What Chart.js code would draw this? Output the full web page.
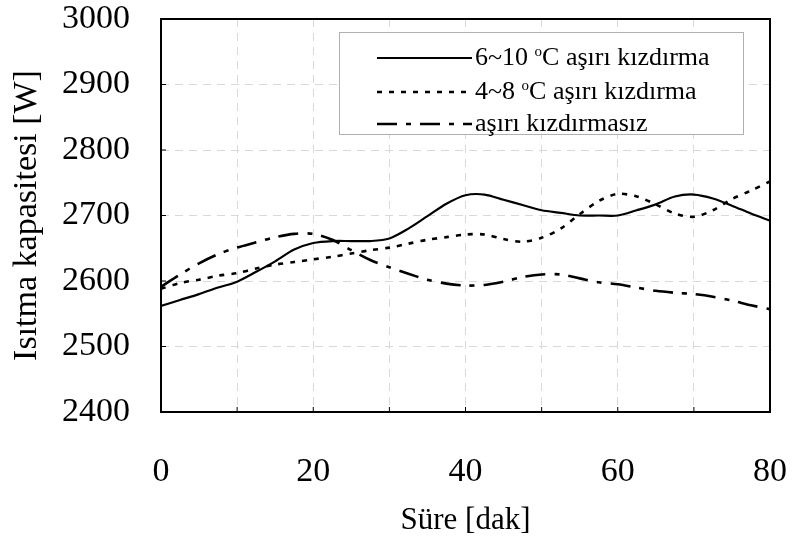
<!DOCTYPE html>
<html>
<head>
<meta charset="utf-8">
<script src="https://cdn.jsdelivr.net/npm/chart.js@4"></script>
<style>
  html, body { margin: 0; padding: 0; background: #fff; }
  #wrap { width: 792px; height: 545px; }
</style>
</head>
<body>
<div id="wrap"><canvas id="chart" width="792" height="545"></canvas></div>
<script>
// süre [dak]
const sure = [0, 2.5, 5, 7.5, 10, 12.5, 15, 17.5, 20, 22.5, 25, 27.5, 30, 32.5, 35, 37.5, 40,
  42.5, 45, 47.5, 50, 52.5, 55, 57.5, 60, 62.5, 65, 67.5, 70, 72.5, 75, 77.5, 80];

// ısıtma kapasitesi [W]
const kizdirma6_10 = [2562, 2571, 2580, 2590, 2599, 2614, 2630, 2648, 2658, 2661, 2661, 2661, 2665,
  2680, 2699, 2718, 2731, 2732, 2724, 2716, 2708, 2704, 2700, 2700, 2700, 2708, 2717, 2729, 2732,
  2726, 2715, 2703, 2692];
const kizdirma4_8 = [2588, 2597, 2602, 2608, 2612, 2619, 2625, 2629, 2633, 2637, 2642, 2647, 2651,
  2657, 2663, 2667, 2671, 2671, 2664, 2660, 2666, 2680, 2702, 2722, 2733, 2729, 2717, 2703, 2698,
  2708, 2725, 2738, 2752];
const kizdirmasiz = [2591, 2610, 2627, 2641, 2651, 2659, 2667, 2672, 2672, 2663, 2647, 2632, 2621,
  2611, 2602, 2596, 2593, 2594, 2599, 2606, 2610, 2610, 2604, 2598, 2595, 2590, 2585, 2582, 2580,
  2576, 2570, 2563, 2557];

const xTicks = [0, 20, 40, 60, 80];

const FONT = '"Liberation Serif", "Times New Roman", serif';
const pts = arr => sure.map((t, i) => ({x: t, y: arr[i]}));

// legend box drawn inside the plot, with the superscript "o"
const legendBox = {
  id: 'legendBox',
  afterDraw(chart) {
    const ctx = chart.ctx;
    const x0 = 339, y0 = 32, w = 404, h = 102;
    ctx.save();
    ctx.fillStyle = '#fff';
    ctx.fillRect(x0, y0, w, h);
    ctx.strokeStyle = '#b0b0b0';
    ctx.lineWidth = 1;
    ctx.setLineDash([]);
    ctx.strokeRect(x0 + 0.5, y0 + 0.5, w, h);
    const rows = [58, 92, 124];
    chart.data.datasets.forEach((ds, i) => {
      const y = rows[i];
      ctx.strokeStyle = '#000';
      ctx.lineWidth = ds.borderWidth;
      ctx.setLineDash(ds.borderDash || []);
      ctx.beginPath();
      ctx.moveTo(377, y);
      ctx.lineTo(472, y);
      ctx.stroke();
      ctx.setLineDash([]);
      ctx.fillStyle = '#000';
      ctx.textBaseline = 'middle';
      let x = 475;
      const parts = ds.label.split('°');
      ctx.font = '26px ' + FONT;
      if (parts.length > 1) {
        ctx.fillText(parts[0], x, y);
        x += ctx.measureText(parts[0]).width;
        ctx.font = '15px ' + FONT;
        ctx.fillText('o', x, y - 6);
        x += ctx.measureText('o').width;
        ctx.font = '26px ' + FONT;
        ctx.fillText(parts[1], x, y);
      } else {
        ctx.fillText(parts[0], x, y);
      }
    });
    ctx.restore();
  }
};

// full box around the plot and small inward tick marks
const frame = {
  id: 'frame',
  afterDatasetsDraw(chart) {
    const {left, top, right, bottom} = chart.chartArea;
    const ctx = chart.ctx;
    ctx.save();
    ctx.strokeStyle = '#000';
    ctx.setLineDash([]);
    ctx.lineWidth = 1;
    ctx.beginPath();
    chart.scales.x.ticks.forEach(t => {
      const px = chart.scales.x.getPixelForValue(t.value);
      ctx.moveTo(px, bottom); ctx.lineTo(px, bottom - 5);
    });
    chart.scales.y.ticks.forEach(t => {
      const py = chart.scales.y.getPixelForValue(t.value);
      ctx.moveTo(left, py); ctx.lineTo(left + 5, py);
    });
    ctx.stroke();
    ctx.lineWidth = 2;
    ctx.strokeRect(left, top, right - left, bottom - top);
    ctx.restore();
  }
};

new Chart(document.getElementById('chart'), {
  type: 'line',
  data: {
    datasets: [
      {label: '6~10 °C aşırı kızdırma', data: pts(kizdirma6_10), borderColor: '#000', borderWidth: 2.2,
        pointRadius: 0, tension: 0.3, fill: false},
      {label: '4~8 °C aşırı kızdırma', data: pts(kizdirma4_8), borderColor: '#000', borderWidth: 2.6,
        borderDash: [5, 7], pointRadius: 0, tension: 0.3, fill: false},
      {label: 'aşırı kızdırmasız', data: pts(kizdirmasiz), borderColor: '#000', borderWidth: 2.6,
        borderDash: [20, 9, 5, 9], pointRadius: 0, tension: 0.3, fill: false}
    ]
  },
  options: {
    responsive: false,
    animation: false,
    layout: {padding: {top: 19, right: 22, bottom: 0, left: 0}},
    plugins: {legend: {display: false}, tooltip: {enabled: false}},
    scales: {
      x: {
        type: 'linear', min: 0, max: 80,
        afterFit: s => { s.height = 133; s.paddingLeft = 0; s.paddingRight = 0; },
        ticks: {
          stepSize: 10, padding: 40, color: '#000', maxRotation: 0,
          font: {family: FONT, size: 34},
          callback: v => xTicks.includes(v) ? String(v) : ''
        },
        grid: {color: '#d9d9d9', drawTicks: false, lineWidth: 1},
        border: {display: false, dash: [8, 6]},
        title: {display: true, text: 'Süre [dak]', color: '#000', font: {family: FONT, size: 31},
          padding: {top: 0, bottom: 6}}
      },
      y: {
        min: 2400, max: 3000,
        afterFit: s => { s.width = 161; s.paddingTop = 0; s.paddingBottom = 0; },
        ticks: {stepSize: 100, padding: 31, color: '#000', font: {family: FONT, size: 34},
          callback: v => String(v)},
        grid: {color: '#d9d9d9', drawTicks: false, lineWidth: 1},
        border: {display: false, dash: [8, 6]},
        title: {display: true, text: 'Isıtma kapasitesi [W]', color: '#000',
          font: {family: FONT, size: 34}, padding: {top: 7, bottom: 0}}
      }
    }
  },
  plugins: [frame, legendBox]
});
</script>
</body>
</html>
